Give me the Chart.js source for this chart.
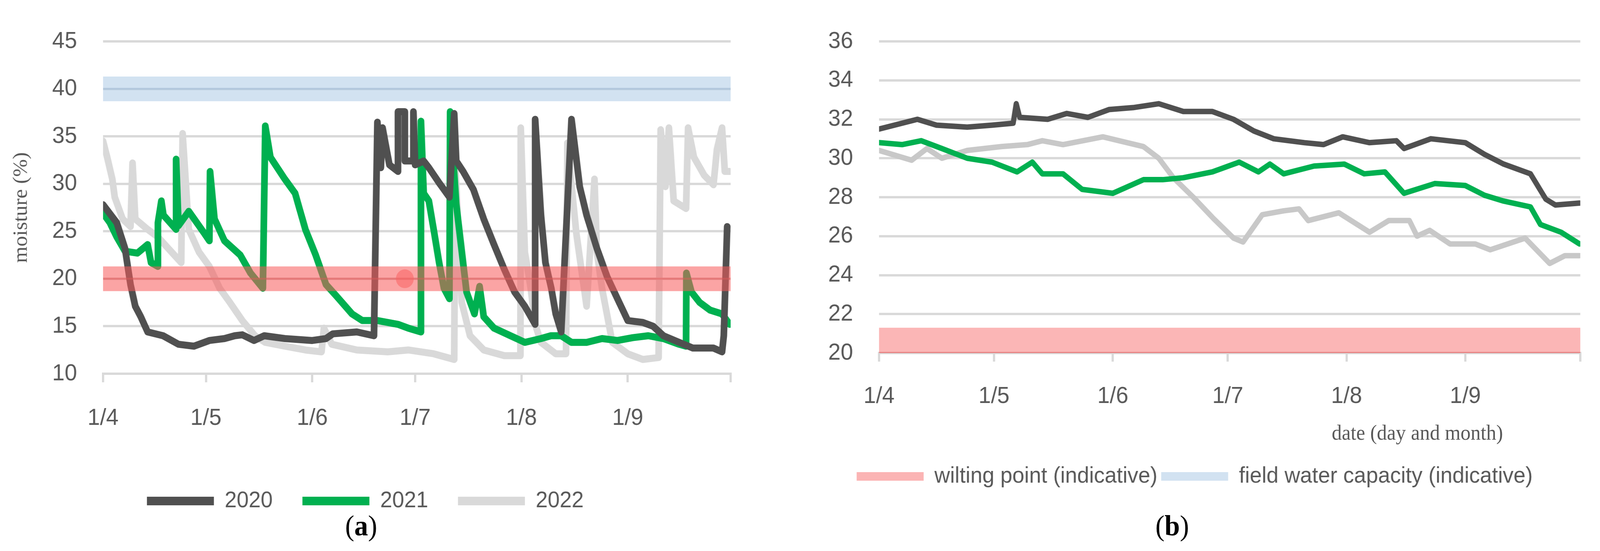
<!DOCTYPE html>
<html>
<head>
<meta charset="utf-8">
<script src="https://cdn.jsdelivr.net/npm/chart.js@4.4.1/dist/chart.umd.min.js"></script>
<style>
  html,body{margin:0;padding:0;background:#fff;overflow:hidden;}
  #wrap{position:relative;width:4301px;height:1411px;overflow:hidden;transform-origin:0 0;}
  .cv{position:absolute;top:0;}
  .cap{position:absolute;font-family:'Liberation Serif',serif;color:#000;font-size:74px;transform:translate(-50%,-50%);white-space:nowrap;}
  .cap b{font-weight:bold;}
  #xt{position:absolute;font-family:'Liberation Serif',serif;color:#595959;font-size:54px;transform:translate(-50%,-50%);white-space:nowrap;}
</style>
</head>
<body>
<div id="wrap">
  <div class="cv" style="left:0;width:2150px;height:1411px"><canvas id="chart-a"></canvas></div>
  <div class="cv" style="left:2150px;width:2151px;height:1411px"><canvas id="chart-b"></canvas></div>
  <div id="xt" style="left:3810px;top:1108px">date (day and month)</div>
  <div class="cap" style="left:971px;top:1346px">(<b>a</b>)</div>
  <div class="cap" style="left:3151px;top:1346px">(<b>b</b>)</div>
</div>
<script>
/* ---- tick labels (days since 1 April) ---- */
const tickDays   = [0, 30, 61, 91, 122, 153, 183];
const tickLabels = ['1/4', '1/5', '1/6', '1/7', '1/8', '1/9', ''];

/* ---- indicative bands ---- */
const wiltingBand = [18.7, 21.3], wiltingLine = 20;
const fieldBand   = [38.7, 41.3], fieldLine   = 40;

/* ---- panel (a) ---- */
const daysA2020 = [0,4,6.4,8,9.4,11,13,17.5,22,26.5,31,35.4,38.4,40.6,44,47,53,61,65,67,74,79,80,81,81.5,83.5,86,86,88,88,90.5,90.5,91,93.5,95,98,101,102.4,103,105,108,111,114,117,120,123,126,126,127.7,129,130.7,132,133.6,136.6,139,141,144,147,150,153,157.4,160.4,163.4,168,172,178,180.5,181,182];
const moistA2020 = [27.8,25.9,23.2,19.4,17.1,16,14.4,14,13.1,12.9,13.5,13.7,14,14.1,13.5,14,13.7,13.5,13.7,14.2,14.4,14,36.5,31.7,35.9,32,31.3,37.6,37.6,32.4,32.4,37.6,32,32.4,31.7,30.1,28.6,37.4,32.4,31.3,29.4,26.3,23.6,21,18.6,17.1,15.2,36.8,26.7,21.7,19,16.3,14.4,36.8,29.7,26.7,23.2,20.2,17.9,15.6,15.4,15,14,13.3,12.7,12.7,12.3,14,25.5];

const daysA2021 = [0,2,4,6.4,10,13,14,16,16,17,17.6,21.3,21.3,22,25,29.5,31,31.2,32.5,35.4,40,43,46.6,47.3,48.8,53,56,59,62,65,68,72.6,75.6,80,86,89,92.7,92.7,93.5,95,96.4,98,99.4,101,101.2,103,104.6,106,108.3,109.8,111,114,118.8,123,127.7,130.6,133.6,136.6,141,145.5,150,154.5,159,163.4,168,170,170.1,171.6,174,177,180.5,182.7];
const moistA2021 = [26.9,25.9,24.4,22.9,22.7,23.6,21.7,21.3,25.9,28.2,26.7,25.2,32.6,25.6,27.1,24.8,24,31.3,26.3,24,22.5,20.6,19,36.1,32.8,30.5,29,25.2,22.5,19.4,18.2,16.3,15.6,15.6,15.2,14.8,14.4,36.6,29,28.2,25.2,21.7,19,17.9,37.6,27.8,22.9,18.6,16.3,19.2,16,14.8,14,13.3,13.7,14,14,13.3,13.3,13.7,13.5,13.8,14,13.7,13.1,12.9,20.6,18.6,17.5,16.7,16.3,15.2];

const daysA2022 = [0,1.2,2.7,3.4,5.7,8,8.6,9.4,13,16,19,22.8,23.2,25,28,31,34,37,40.6,44.3,47.3,53,59,63.7,64.4,66.7,74,83,89,96.4,102.4,102.7,104.6,107,111,117,121.7,121.8,123,124.7,126,127.7,132,135,135.4,138,141,143.3,144,145.5,148.5,153,157.4,162,162.6,164,165,166.4,170,170.6,172.3,175.3,178,179,180.5,181.3,182.7];
const moistA2022 = [34.5,32.8,30.5,28.6,26.3,25.5,32.2,26.3,25.2,24.4,23.2,21.7,35.3,25.2,22.8,21.3,19,17.5,15.6,14,13.3,12.9,12.5,12.3,14.8,13.1,12.5,12.3,12.5,12.1,11.5,32.2,17.5,14,12.5,11.9,11.9,35.9,22.8,19,15.2,13.3,12.1,12.1,34.3,24.8,17.1,30.5,22.8,19,13.3,12.1,11.5,11.7,35.7,29.7,35.9,28.2,27.4,35.9,32.8,30.9,29.9,33.6,35.9,31.3,31.3];

/* ---- panel (b) ---- */
const daysB2020 = [0,6,10,15,23,29.5,35,35.8,36.7,44,49,54.5,60,66.3,73,79.4,87,92.5,97.8,103,111,116,121,128,135,137,144,153,158,163,170,174,176.5,182.8];
const moistB2020 = [31.5,31.8,32,31.7,31.6,31.7,31.8,32.8,32.1,32,32.3,32.1,32.5,32.6,32.8,32.4,32.4,32,31.4,31,30.8,30.7,31.1,30.8,30.9,30.5,31,30.8,30.2,29.7,29.2,27.9,27.6,27.7];

const daysB2021 = [0,6,11,16.4,23,29.5,36,40,42.6,48,53,61,69,74,79.4,87,94,99,102,105.6,113.5,121.4,126.6,132,137,145,153,158,163,170,172.6,178,182.8];
const moistB2021 = [30.8,30.7,30.9,30.5,30,29.8,29.3,29.8,29.2,29.2,28.4,28.2,28.9,28.9,29,29.3,29.8,29.3,29.7,29.2,29.6,29.7,29.2,29.3,28.2,28.7,28.6,28.1,27.8,27.5,26.6,26.2,25.6];

const daysB2022 = [0,8.5,12.5,16.4,23,32,38.7,42.6,48,58.4,69,73,76.8,82,87.3,92.5,95,100,105.6,109.6,112,120,128,133,138.4,140.4,143.7,149,155.6,159.5,168.6,175,179,182.8];
const moistB2022 = [30.4,29.9,30.5,30,30.4,30.6,30.7,30.9,30.7,31.1,30.6,30,29,28,26.9,25.9,25.7,27.1,27.3,27.4,26.8,27.2,26.2,26.8,26.8,26,26.3,25.6,25.6,25.3,25.9,24.6,25,25];

// fit the 4301x1411 layout into whatever viewport we actually get
const wrap = document.getElementById('wrap');
wrap.style.transform = `scale(${window.innerWidth / 4301}, ${window.innerHeight / 1411})`;

const FONT = 'Liberation Sans';
const TXT  = '#595959';
const GRID = '#d9d9d9';

function pts(xs, ys) { return xs.map((x, i) => ({ x, y: ys[i] })); }
function flat(v) { return [{ x: 0, y: v }, { x: 183, y: v }]; }

function series(label, xs, ys, color, width) {
  return { label, data: pts(xs, ys), borderColor: color, backgroundColor: color,
    borderWidth: width, pointRadius: 0, tension: 0, fill: false, order: 2,
    borderJoinStyle: 'round', borderCapStyle: 'round' };
}

function band(label, lim, mid, fillColor, lineColor, markerAt) {
  return [
    { label: '_hi', data: flat(lim[1]), borderWidth: 0, pointRadius: 0, fill: false, order: 1 },
    { label, data: flat(lim[0]), borderWidth: 0, pointRadius: 0, fill: '-1',
      backgroundColor: fillColor, borderColor: fillColor, order: 1 },
    { label: '_mid', data: markerAt == null ? flat(mid) : [{ x: 0, y: mid }, { x: markerAt, y: mid }, { x: 183, y: mid }],
      borderColor: lineColor, borderWidth: 5, fill: false, order: 1,
      pointRadius: markerAt == null ? 0 : [0, 24, 0], pointBorderWidth: 0,
      pointBackgroundColor: 'rgba(250,110,110,0.55)' },
  ];
}

function makeChart(id, datasets, opt) {
  const legendItems = opt.legend;
  return new Chart(document.getElementById(id), {
    type: 'line',
    data: { datasets },
    options: {
      responsive: true, maintainAspectRatio: false, animation: false,
      layout: { padding: { top: opt.top, right: opt.right, bottom: opt.padBottom, left: 0 } },
      plugins: {
        tooltip: { enabled: false },
        legend: {
          position: 'bottom',
          labels: {
            font: { family: FONT, size: 58 }, color: TXT, padding: opt.legPad,
            boxWidth: 180, boxHeight: 22, useBorderRadius: true, borderRadius: 11,
            generateLabels: () => legendItems.map(l => ({
              text: l.text, fillStyle: l.color, strokeStyle: l.color, lineWidth: 0,
              fontColor: TXT, hidden: false })),
          },
          onClick: null,
        },
      },
      scales: {
        x: {
          type: 'linear', min: 0, max: 183,
          afterBuildTicks: s => { s.ticks = tickDays.map(v => ({ value: v })); },
          afterFit: s => { s.height = opt.xHeight; },
          ticks: { callback: v => tickLabels[tickDays.indexOf(v)], autoSkip: false, maxRotation: 0,
                   font: { family: FONT, size: 60 }, color: TXT, padding: opt.xPad },
          grid: { drawOnChartArea: false, drawTicks: true, tickLength: 22, color: GRID, lineWidth: 6 },
          border: { display: true, color: GRID, width: 6 },
        },
        y: {
          min: opt.yMin, max: opt.yMax,
          afterFit: s => { s.width = opt.yWidth; },
          ticks: { stepSize: opt.yStep, font: { family: FONT, size: 60 }, color: TXT, padding: 70 },
          grid: { color: GRID, lineWidth: 6, drawTicks: false },
          border: { display: false },
          title: opt.yTitle ? { display: true, text: opt.yTitle, color: TXT, padding: { top: 25, bottom: 0 },
                                font: { family: 'Liberation Serif', size: 54 } } : { display: false },
        },
      },
    },
  });
}

makeChart('chart-a', [
  series('2020', daysA2020, moistA2020, '#505050', 18),
  series('2021', daysA2021, moistA2021, '#00b050', 18),
  series('2022', daysA2022, moistA2022, '#d9d9d9', 18),
  ...band('wilting point (indicative)', wiltingBand, wiltingLine, 'rgba(248,90,90,0.55)', 'rgba(200,90,90,0.45)', 88),
  ...band('field water capacity (indicative)', fieldBand, fieldLine, 'rgba(180,206,232,0.6)', 'rgba(150,170,195,0.6)', null),
], {
  top: 65, right: 186, padBottom: 89, xHeight: 217, xPad: 56, legPad: 80,
  yMin: 10, yMax: 45, yStep: 5, yWidth: 277, yTitle: 'moisture (%)',
  legend: [ { text: '2020', color: '#505050' }, { text: '2021', color: '#00b050' }, { text: '2022', color: '#d9d9d9' } ],
});

makeChart('chart-b', [
  series('2020', daysB2020, moistB2020, '#505050', 14),
  series('2021', daysB2021, moistB2021, '#00b050', 14),
  series('2022', daysB2022, moistB2022, '#c8c8c8', 14),
  ...band('wilting point (indicative)', wiltingBand, wiltingLine, 'rgba(248,110,110,0.5)', 'rgba(220,110,110,0.7)', null),
  ...band('field water capacity (indicative)', fieldBand, fieldLine, 'rgba(180,206,232,0.6)', 'rgba(150,170,195,0.6)', null),
], {
  top: 65, right: 28, padBottom: 152, xHeight: 277, xPad: 53, legPad: 10,
  yMin: 20, yMax: 36, yStep: 2, yWidth: 213, yTitle: null,
  legend: [ { text: 'wilting point (indicative)', color: '#fbb4b4' }, { text: 'field water capacity (indicative)', color: '#d2e2f1' } ],
});
</script>
</body>
</html>
